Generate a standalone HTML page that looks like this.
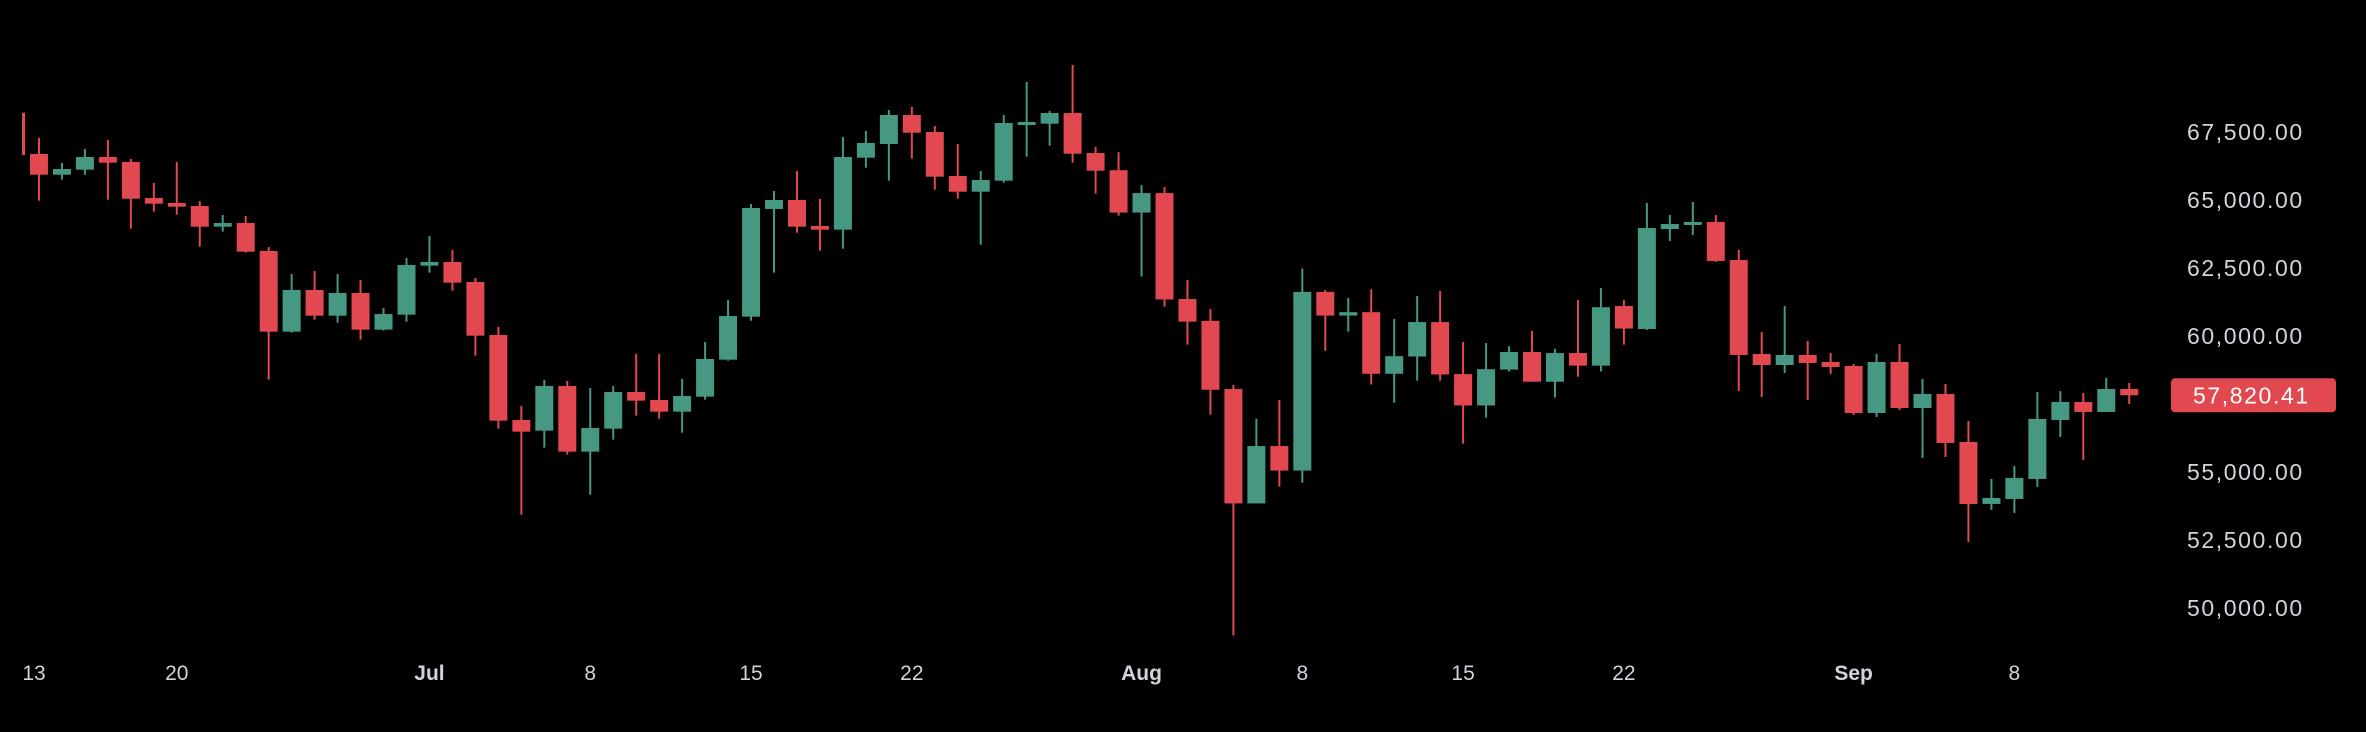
<!DOCTYPE html>
<html><head><meta charset="utf-8"><style>
html,body{margin:0;padding:0;background:#000;}
svg{display:block;}
text{font-family:"Liberation Sans",sans-serif;}
</style></head><body>
<svg id="chart" width="2366" height="732" viewBox="0 0 2366 732" xmlns="http://www.w3.org/2000/svg">
<rect x="0" y="0" width="2366" height="732" fill="#000"/>
<defs><clipPath id="plotclip"><rect x="22" y="0" width="2140" height="650"/></clipPath></defs>
<g id="candles" clip-path="url(#plotclip)"></g>
<g id="yaxis"></g>
<g id="xaxis"></g>
<g id="lastprice"></g>
</svg>
<script>
const opens=[68209,66691,65930,66114,66581,66397,65074,64890,64780,64019,64155,63126,60159,61692,60747,61582,60233,60784,62585,62721,61986,60038,56913,56520,58163,55748,56593,57942,57648,57218,57770,59130,60711,64670,65000,64045,63909,66555,67059,68125,67500,65883,65305,65710,67768,67805,68198,66728,66096,64537,65254,61358,60556,58049,53844,55954,55053,61622,60751,60876,58611,59247,60512,58600,57446,58766,59413,58318,59373,58910,61104,60258,63934,64081,64192,62795,59339,58935,59303,59045,58898,57170,59045,57354,57869,56104,53825,54009,54744,56913,57575,57207,58053];
const highs=[68300,67279,66360,66875,67206,66507,65625,66397,64964,64449,64412,63273,62280,62390,62280,62060,61030,62868,63677,63162,62133,60332,57428,58383,58347,58089,58163,59339,59339,58420,59780,61324,64853,65331,66066,65037,67316,67537,68309,68419,67721,67059,66066,68125,69338,68272,69963,66949,66757,65548,65478,62060,60990,58204,56954,57641,62484,61692,61398,61721,60626,61468,61652,59780,59740,59626,60188,59527,61328,61765,61328,64890,64449,64927,64449,63162,60148,61104,59817,59376,58972,59339,59707,58420,58237,56876,54744,55222,57942,57979,57906,58457,58273];
const lows=[66550,64975,65747,65930,65011,63945,64570,64460,63284,63835,63063,58395,60122,60600,60490,59865,60196,60527,62328,61666,59277,56593,53432,55895,55638,54167,56189,57071,56961,56446,57659,59093,60563,62328,63798,63137,63210,66188,65710,66519,65379,65048,63357,65636,66592,66996,66371,65232,64423,62184,61075,59681,57108,48991,53844,54461,54604,59457,60159,58218,57545,58358,58358,56038,56994,58696,58318,57740,58501,58696,59681,60222,63493,63714,62721,57979,57759,58641,57648,58604,57097,57023,57281,55516,55553,52428,53605,53494,54450,56288,55443,57207,57501];
const closes=[66655,65930,66140,66581,66371,65048,64864,64754,64019,64155,63100,60159,61692,60747,61582,60233,60810,62611,62721,61960,60012,56887,56483,58163,55748,56619,57942,57623,57218,57795,59155,60736,64706,65000,64019,63909,66581,67096,68125,67474,65857,65305,65736,67831,67868,68198,66702,66077,64537,65254,61343,60527,58023,53844,55954,55053,61622,60751,60876,58611,59258,60512,58585,57446,58780,59413,58318,59373,58910,61059,60273,63971,64118,64192,62758,59303,58935,59303,59008,58861,57170,59045,57354,57869,56068,53825,54046,54781,56950,57575,57207,58053,57820.41];
const yTicks=[67500,65000,62500,60000,55000,52500,50000];
const xTickDays=[0,7,18,25,32,39,49,56,63,70,80,87];
const xTickLabels=["13","20","Jul","8","15","22","Aug","8","15","22","Sep","8"];
const xTickBold=[false,false,true,false,false,false,true,false,false,false,true,false];
const lastPrice=57820.41;

const NS="http://www.w3.org/2000/svg";
const x0=16, dayW=22.97, bodyW=18;
const xs=i=>x0+i*dayW;
const ys=p=>132+(67500-p)*(68/2500);
const UP="#469882", DOWN="#e2484f";
function mk(tag,attrs,parent){const e=document.createElementNS(NS,tag);for(const k in attrs)e.setAttribute(k,attrs[k]);parent.appendChild(e);return e;}
const cg=document.getElementById('candles');
for(let i=0;i<opens.length;i++){
  const o=opens[i],c=closes[i],h=highs[i],l=lows[i];
  const col=c>=o?UP:DOWN;
  const g=mk('g',{},cg);
  
  
  const w=mk('rect',{x:xs(i)-1,y:ys(h),width:2,height:Math.max(1,ys(l)-ys(h)),fill:col},g);
  
  
  const top=Math.min(ys(o),ys(c));
  const b=mk('rect',{x:xs(i)-bodyW/2,y:top,width:bodyW,height:Math.max(3,Math.abs(ys(o)-ys(c))),fill:col},g);
  
  
}
const yg=document.getElementById('yaxis');
yTicks.forEach(v=>{
  const t=mk('text',{x:2187,y:ys(v)+8,fill:"#d1d4dc","font-size":"23","letter-spacing":"1.6"},yg);
  
  
  t.textContent=v.toLocaleString('en-US',{minimumFractionDigits:2,maximumFractionDigits:2});
});
const xg=document.getElementById('xaxis');
xTickDays.forEach((d,i)=>{
  const cx=Math.max(34,xs(d));
  const t=mk('text',{x:cx,y:680,fill:"#d1d4dc","font-size":"21","text-anchor":"middle","font-weight":xTickBold[i]?"bold":"normal"},xg);
  
  
  t.textContent=xTickLabels[i];
});
const lp=document.getElementById('lastprice');
const ly=ys(lastPrice);
const box=mk('rect',{x:2171,y:ly-17,width:165,height:34,rx:4,fill:DOWN},lp);


const lt=mk('text',{x:2193,y:ly+8,fill:"#ffffff","font-size":"23","letter-spacing":"1.6"},lp);


lt.textContent=lastPrice.toLocaleString('en-US',{minimumFractionDigits:2});
</script>
</body></html>
